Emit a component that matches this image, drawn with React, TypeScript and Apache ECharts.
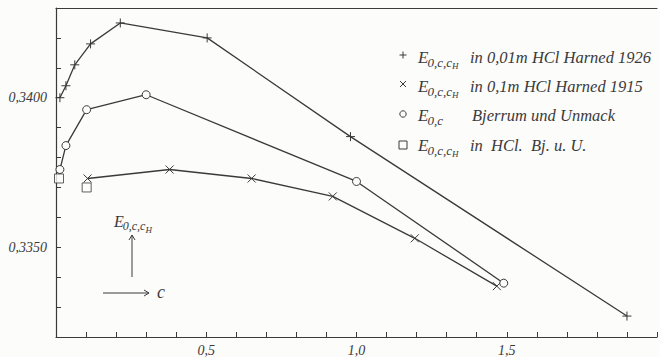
import React, { useEffect, useRef } from "react";
import * as echarts from "echarts";

// Harned 1926, in 0,01m HCl
const harned1926C = [0.013, 0.033, 0.0625, 0.115, 0.214, 0.503, 0.98, 1.9];
const harned1926E = [0.34, 0.3404, 0.3411, 0.3418, 0.3425, 0.342, 0.3387, 0.3327];
// Harned 1915, in 0,1m HCl
const harned1915C = [0.105, 0.378, 0.651, 0.921, 1.194, 1.467];
const harned1915E = [0.3373, 0.3376, 0.3373, 0.3367, 0.3353, 0.3337];
// Bjerrum und Unmack
const bjerrumC = [0.013, 0.033, 0.102, 0.3, 1.0, 1.49];
const bjerrumE = [0.3376, 0.3384, 0.3396, 0.3401, 0.3372, 0.3338];
// in HCl, Bj. u. U.
const hclBjC = [0.01, 0.102];
const hclBjE = [0.3373, 0.337];

const legendTexts = [
  "in 0,01m HCl Harned 1926",
  "in 0,1m HCl Harned 1915",
  "Bjerrum und Unmack",
  "in  HCl.  Bj. u. U.",
];
const legendSubs = ["0,c,c", "0,c,c", "0,c", "0,c,c"];
const legendSubH = ["H", "H", "", "H"];

const INK = "#3a3a3a";
const BG = "#fcfcfa";
const FONT = "Liberation Serif, DejaVu Serif, serif";

const zip = (a: number[], b: number[]) => a.map((v, i) => [v, b[i]]);

function measure(text: string, size: number) {
  const c = document.createElement("canvas").getContext("2d");
  if (!c) return text.length * size * 0.45;
  c.font = `italic ${size}px ${FONT}`;
  return c.measureText(text).width;
}

function eSymbol(x: number, y: number, sub: string, h: string, size: number) {
  const eW = measure("E", size);
  const subSize = Math.round(size * 0.78);
  const hSize = Math.round(size * 0.55);
  const subW = measure(sub, subSize);
  const els: any[] = [
    { type: "text", x, y, style: { text: "E", font: `italic ${size}px ${FONT}`, fill: INK, verticalAlign: "middle" } },
    { type: "text", x: x + eW - 1, y: y + size * 0.3, style: { text: sub, font: `italic ${subSize}px ${FONT}`, fill: INK, verticalAlign: "middle" } },
  ];
  if (h) {
    els.push({ type: "text", x: x + eW - 1 + subW, y: y + size * 0.55, style: { text: h, font: `italic ${hSize}px ${FONT}`, fill: INK, verticalAlign: "middle" } });
  }
  return els;
}

const App: React.FC = () => {
  const ref = useRef<HTMLDivElement>(null);
  useEffect(() => {
    if (!ref.current) return;
    const chart = echarts.init(ref.current, null, { renderer: "svg" });

    const rowsY = [57, 86, 115, 145];
    const markY = [55, 84, 114, 145];
    const mx = 403;
    const graphics: any[] = [];
    // legend markers
    graphics.push({ type: "line", shape: { x1: mx - 3.5, y1: markY[0], x2: mx + 3.5, y2: markY[0] }, style: { stroke: INK, lineWidth: 1 } });
    graphics.push({ type: "line", shape: { x1: mx, y1: markY[0] - 3.5, x2: mx, y2: markY[0] + 3.5 }, style: { stroke: INK, lineWidth: 1 } });
    graphics.push({ type: "line", shape: { x1: mx - 3, y1: markY[1] - 3, x2: mx + 3, y2: markY[1] + 3 }, style: { stroke: INK, lineWidth: 1 } });
    graphics.push({ type: "line", shape: { x1: mx + 3, y1: markY[1] - 3, x2: mx - 3, y2: markY[1] + 3 }, style: { stroke: INK, lineWidth: 1 } });
    graphics.push({ type: "circle", shape: { cx: mx, cy: markY[2], r: 3.2 }, style: { stroke: INK, fill: "none", lineWidth: 1 } });
    graphics.push({ type: "rect", shape: { x: mx - 4, y: markY[3] - 4, width: 8, height: 8 }, style: { stroke: INK, fill: "none", lineWidth: 1 } });
    const textX = [470, 470, 472, 470];
    rowsY.forEach((y, i) => {
      graphics.push(...eSymbol(418, y, legendSubs[i], legendSubH[i], 17));
      graphics.push({ type: "text", x: textX[i], y, style: { text: legendTexts[i], font: `italic 16.5px ${FONT}`, fill: INK, verticalAlign: "middle" } });
    });
    // axis direction annotation
    graphics.push(...eSymbol(114, 221, "0,c,c", "H", 16));
    graphics.push({ type: "line", shape: { x1: 132, y1: 277, x2: 132, y2: 235 }, style: { stroke: INK, lineWidth: 1 } });
    graphics.push({ type: "polyline", shape: { points: [[129, 240], [132, 235], [135, 240]] }, style: { stroke: INK, fill: "none", lineWidth: 1 } });
    graphics.push({ type: "line", shape: { x1: 103, y1: 293, x2: 149, y2: 293 }, style: { stroke: INK, lineWidth: 1 } });
    graphics.push({ type: "polyline", shape: { points: [[144, 290], [149, 293], [144, 296]] }, style: { stroke: INK, fill: "none", lineWidth: 1 } });
    graphics.push({ type: "text", x: 157, y: 292, style: { text: "c", font: `italic 18px ${FONT}`, fill: INK, verticalAlign: "middle" } });

    const lineSeries = (name: string, data: number[][], symbol: string, size: number) => ({
      name,
      type: "line",
      data,
      symbol,
      symbolSize: size,
      showSymbol: true,
      color: INK,
      lineStyle: { color: INK, width: 1.3 },
      itemStyle: { color: BG, borderColor: INK, borderWidth: 1 },
      z: 3,
    });

    chart.setOption({
      animation: false,
      backgroundColor: BG,
      grid: { left: 56, right: -4, top: 8, bottom: 19 },
      xAxis: [
        {
          type: "value",
          min: 0,
          max: 2.0,
          interval: 0.1,
          axisLine: { show: true, lineStyle: { color: INK, width: 1.2 } },
          axisTick: { show: true, inside: true, length: 5, lineStyle: { color: INK } },
          splitLine: { show: false },
          axisLabel: {
            margin: 6,
            fontFamily: FONT,
            fontStyle: "italic",
            fontSize: 14,
            color: INK,
            formatter: (v: number) => {
              const k = Math.round(v * 10);
              return k > 0 && k % 5 === 0 && k < 20 ? (k / 10).toFixed(1).replace(".", ",") : "";
            },
          },
        },
        {
          type: "value",
          position: "top",
          min: 0,
          max: 2.0,
          axisLine: { show: true, lineStyle: { color: INK, width: 1.2 } },
          axisTick: { show: false },
          axisLabel: { show: false },
          splitLine: { show: false },
        },
      ],
      yAxis: {
        type: "value",
        min: 0.332,
        max: 0.343,
        interval: 0.001,
        axisLine: { show: true, lineStyle: { color: INK, width: 1.2 } },
        axisTick: { show: true, inside: true, length: 5, lineStyle: { color: INK } },
        splitLine: { show: false },
        axisLabel: {
          margin: 9,
          fontFamily: FONT,
          fontStyle: "italic",
          fontSize: 14,
          color: INK,
          formatter: (v: number) => {
            const k = Math.round(v * 10000);
            return k % 50 === 0 && k > 3320 && k < 3430 ? (k / 10000).toFixed(4).replace(".", ",") : "";
          },
        },
      },
      graphic: graphics,
      series: [
        lineSeries("E0,c,cH in 0,01m HCl Harned 1926", zip(harned1926C, harned1926E), "path://M5,0L5,10M0,5L10,5", 9),
        lineSeries("E0,c,cH in 0,1m HCl Harned 1915", zip(harned1915C, harned1915E), "path://M0,0L10,10M10,0L0,10", 8),
        lineSeries("E0,c Bjerrum und Unmack", zip(bjerrumC, bjerrumE), "circle", 8),
        {
          name: "E0,c,cH in HCl. Bj. u. U.",
          type: "scatter",
          data: zip(hclBjC, hclBjE),
          symbol: "rect",
          symbolSize: 9,
          itemStyle: { color: BG, borderColor: INK, borderWidth: 1 },
          z: 4,
        },
      ],
    });
    return () => chart.dispose();
  }, []);
  return <div ref={ref} style={{ position: "fixed", left: 0, top: 0, width: 660, height: 357 }} />;
};

export default App;
